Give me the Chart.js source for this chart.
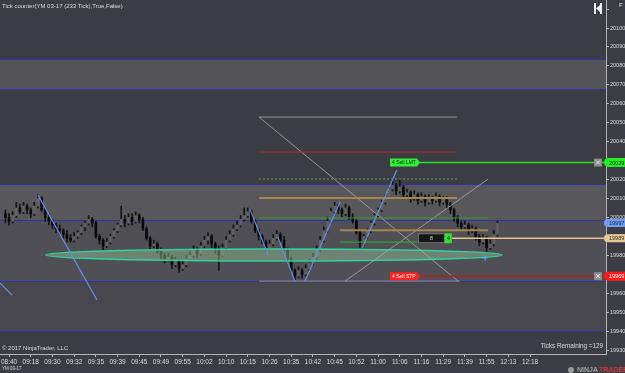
<!DOCTYPE html>
<html><head><meta charset="utf-8">
<script src="https://cdn.jsdelivr.net/npm/chart.js@4"></script>
<style>html,body{margin:0;padding:0;background:#3c3c44;overflow:hidden}canvas{display:block}</style>
</head><body>
<canvas id="c" width="625" height="373"></canvas>
<script>
// ---------- DATA (bar index / price units) ----------
const opens = [20002,20000,19998,20001,20005,20003,20006,20004,20002,20006,
 20010,20004,20000,19998,19996,19994,19993,19991,19989,19988,
 19990,19992,19995,19997,19999,19997,19990,19988,19985,19987,
 19990,19993,19996,19999,19997,20000,19998,20001,19999,19994,
 19989,19985,19986,19982,19980,19978,19979,19975,19977,19973,
 19975,19978,19980,19983,19981,19985,19988,19990,19986,19983,
 19980,19984,19988,19991,19994,19996,19999,20001,20003,19998,
 19993,19990,19987,19984,19986,19989,19991,19988,19983,19978,
 19972,19969,19972,19970,19973,19976,19979,19983,19988,19993,
 19998,20003,20006,20004,20002,20005,20000,19998,19992,19986,
 19990,19993,19997,20001,20004,20008,20011,20015,20017,20014,
 20016,20012,20013,20010,20012,20009,20011,20008,20010,20009,
 20011,20008,20010,20007,20004,20000,19997,19995,19996,19993,
 19994,19990,19987,19989,19984,19986,19991];
const highs = [20004,20002,20003,20008,20007,20008,20007,20005,20008,20012,
 20011,20005,20002,19999,19997,19996,19994,19993,19991,19992,
 19993,19996,19998,20001,20000,19998,19991,19989,19989,19991,
 19994,19997,20006,20001,20002,20002,20003,20002,20000,19995,
 19990,19988,19987,19984,19981,19981,19980,19979,19978,19977,
 19980,19982,19985,19984,19987,19990,19992,19991,19987,19985,
 19986,19990,19993,19996,19998,20001,20005,20005,20004,19999,
 19994,19991,19988,19988,19991,19993,19992,19990,19984,19979,
 19973,19974,19973,19975,19978,19981,19985,19990,19995,20000,
 20005,20008,20007,20005,20007,20006,20002,19999,19993,19991,
 19994,19998,20002,20005,20009,20012,20016,20020,20018,20020,
 20017,20015,20014,20014,20013,20013,20012,20012,20011,20013,
 20012,20011,20011,20008,20005,20001,19998,19998,19997,19996,
 19995,19991,19991,19990,19988,19993,19998];
const lows = [19997,19996,19997,20000,20002,20002,20002,20000,20001,20005,
 20003,19998,19996,19994,19992,19991,19989,19987,19987,19987,
 19989,19991,19993,19996,19995,19989,19986,19983,19984,19986,
 19989,19992,19995,19995,19996,19996,19997,19997,19993,19988,
 19983,19984,19981,19978,19976,19977,19973,19974,19971,19972,
 19974,19977,19979,19979,19980,19984,19986,19984,19981,19972,
 19979,19983,19987,19990,19993,19995,19998,20000,19997,19992,
 19988,19986,19982,19983,19985,19988,19987,19982,19977,19971,
 19967,19968,19968,19969,19972,19975,19978,19982,19987,19992,
 19997,20002,20002,20000,20001,19999,19997,19991,19984,19985,
 19989,19992,19996,20000,20003,20007,20010,20014,20012,20013,
 20011,20011,20008,20009,20007,20008,20006,20007,20007,20008,
 20006,20007,20005,20002,19998,19995,19993,19994,19991,19992,
 19988,19985,19986,19982,19983,19985,19990];
const closes = [20000,19998,20001,20005,20003,20006,20004,20002,20006,20010,
 20004,20000,19998,19996,19994,19993,19991,19989,19988,19990,
 19992,19995,19997,19999,19997,19990,19988,19985,19987,19990,
 19993,19996,19999,19997,20000,19998,20001,19999,19994,19989,
 19985,19986,19982,19980,19978,19979,19975,19977,19973,19975,
 19978,19980,19983,19981,19985,19988,19990,19986,19983,19980,
 19984,19988,19991,19994,19996,19999,20001,20003,19998,19993,
 19990,19987,19984,19986,19989,19991,19988,19983,19978,19972,
 19969,19972,19970,19973,19976,19979,19983,19988,19993,19998,
 20003,20006,20004,20002,20005,20000,19998,19992,19986,19990,
 19993,19997,20001,20004,20008,20011,20015,20017,20014,20016,
 20012,20013,20010,20012,20009,20011,20008,20010,20009,20011,
 20008,20010,20007,20004,20000,19997,19995,19996,19993,19994,
 19990,19987,19989,19984,19986,19991,19997];

const timeLabels = ['08:40','09:18','09:30','09:32','09:35','09:39','09:45','09:49','09:55','10:02',
 '10:10','10:15','10:26','10:35','10:42','10:45','10:52','11:00','11:06','11:16',
 '11:29','11:39','11:55','12:13','12:18'];
const timeTickIdx = [1,7,13,19,25,31,37,43,49,55,61,67,73,79,85,91,97,103,109,115,121,127,133,139,145];
const priceTicks = [19930,19940,19950,19960,19970,19980,19990,20000,20010,20020,20030,20040,20050,20060,20070,20080,20090,20100,20110];
const hiddenPriceTicks = [20110,20030];

// session level lines and shaded zones (price)
const levelLines = [20083.6, 20067.7, 20017.6, 19998.6, 19966.4, 19940.0];
const zoneTop    = [20083.6, 20017.6, 19998.6, 19966.4];
const zoneBottom = [20067.7, 19998.6, 19966.4, 19940.0];

// blue trend lines [idx1, price1, idx2, price2]
const trendLines = [
  [-1.5,19965.4, 1.8,19959.0],
  [9.0,20011.8, 25.3,19956.4],
  [67.6,20004.4, 72.6,19980.1],
  [75.3,19989.6, 80.0,19966.4],
  [82.8,19966.4, 92.5,20008.1],
  [98.6,19983.8, 108.2,20025.0]
];
// gray drawing-tool lines [idx1, price1, idx2, price2]
const grayLines = [
  [70.1,20053.0, 124.8,20053.0],
  [70.1,19966.4, 125.6,19966.4],
  [70.1,20053.0, 125.1,19966.4],
  [93.9,19966.4, 133.4,20020.3]
];
// horizontal study levels [price, idxStart, idxEnd]
const redLevels   = [[20034.5, 70.1, 124.8]];
const tanLevels   = [[20010.2, 70.1, 124.8], [19993.3, 92.5, 133.4]];
const greenLevels = [[19999.7, 70.1, 133.4], [19987.0, 92.5, 114.0]];
const dottedLevels = [[20020.3, 70.1, 124.8]];
// ellipse bounds [idxLeft, priceTop, idxRight, priceBottom]
const ellipseBox = [11.2, 19983.3, 137.25, 19977.0];

// orders / position
const limitPrice = 20029, stopPrice = 19969, avgPrice = 19989, lastPrice = 19997;
const orderQty = 4, positionText = '8';
const orderLabelIdx = 106.3, positionBoxIdx = [114.0, 123.4];
const crossMark = [132.6, 19978.6];
const ticksRemaining = 129;

// ---------- STYLE ----------
const BG = '#3c3c44';
const zoneColors = ['#545458', '#58585c', '#4f4f55', '#47474d'];
const FONT = '"Liberation Sans", Arial, sans-serif';

const wickData = closes.map((c, i) => ({x: i, y: [lows[i], highs[i]]}));
const bodyData = closes.map((c, i) => ({x: i, y: [opens[i], closes[i]]}));

function tag(ctx, x, yc, w, h, fill, text, tcol) {
  ctx.beginPath();
  ctx.moveTo(x + h/2, yc - h/2);
  ctx.lineTo(x + w, yc - h/2);
  ctx.lineTo(x + w, yc + h/2);
  ctx.lineTo(x + h/2, yc + h/2);
  ctx.arc(x + h/2, yc, h/2, Math.PI/2, Math.PI*1.5);
  ctx.closePath();
  ctx.fillStyle = fill; ctx.fill();
  ctx.fillStyle = tcol; ctx.font = '5.5px ' + FONT; ctx.textAlign = 'left'; ctx.textBaseline = 'middle';
  ctx.fillText(text, x + 5, yc + 0.5);
}
function closeBtn(ctx, x, yc) {
  ctx.fillStyle = '#8c8c8c'; ctx.fillRect(x, yc - 4, 8, 8);
  ctx.strokeStyle = '#e8e8e8'; ctx.lineWidth = 1;
  ctx.beginPath(); ctx.moveTo(x + 2, yc - 2); ctx.lineTo(x + 6, yc + 2); ctx.moveTo(x + 6, yc - 2); ctx.lineTo(x + 2, yc + 2); ctx.stroke();
}

const overlay = {
  id: 'overlay',
  beforeDraw(chart) {
    const {ctx, chartArea: a, scales: {x, y}} = chart;
    ctx.save();
    ctx.fillStyle = BG; ctx.fillRect(0, 0, chart.width, chart.height);
    zoneTop.forEach((t, k) => {
      const y1 = y.getPixelForValue(t), y2 = y.getPixelForValue(zoneBottom[k]);
      ctx.fillStyle = zoneColors[k]; ctx.fillRect(a.left, y1, a.right - a.left, y2 - y1);
    });
    ctx.strokeStyle = '#3333a8'; ctx.lineWidth = 1;
    levelLines.forEach(v => {
      const py = Math.round(y.getPixelForValue(v)) + 0.5;
      ctx.beginPath(); ctx.moveTo(a.left, py); ctx.lineTo(a.right, py); ctx.stroke();
    });
    ctx.restore();
  },
  afterDatasetsDraw(chart) {
    const {ctx, chartArea: a, scales: {x, y}} = chart;
    const X = v => x.getPixelForValue(v), Y = v => y.getPixelForValue(v);
    ctx.save();
    ctx.beginPath(); ctx.rect(a.left, a.top, a.right - a.left, a.bottom - a.top); ctx.clip();
    // ellipse
    const ex1 = X(ellipseBox[0]), ex2 = X(ellipseBox[2]), ey1 = Y(ellipseBox[1]), ey2 = Y(ellipseBox[3]);
    ctx.beginPath();
    ctx.ellipse((ex1 + ex2)/2, (ey1 + ey2)/2, (ex2 - ex1)/2, (ey2 - ey1)/2, 0, 0, Math.PI*2);
    ctx.fillStyle = 'rgba(150,195,150,0.45)'; ctx.fill();
    ctx.strokeStyle = '#2fd49c'; ctx.lineWidth = 1.5; ctx.stroke();
    // gray drawing lines
    ctx.strokeStyle = '#a8a8a8'; ctx.lineWidth = 0.8;
    grayLines.forEach(l => { ctx.beginPath(); ctx.moveTo(X(l[0]), Y(l[1])); ctx.lineTo(X(l[2]), Y(l[3])); ctx.stroke(); });
    const hl = (arr, col, w, dash) => {
      ctx.strokeStyle = col; ctx.lineWidth = w; ctx.setLineDash(dash || []);
      arr.forEach(l => { const py = Y(l[0]); ctx.beginPath(); ctx.moveTo(X(l[1]), py); ctx.lineTo(X(l[2]), py); ctx.stroke(); });
      ctx.setLineDash([]);
    };
    hl(redLevels, '#b42a2a', 1);
    hl(tanLevels, '#a8844e', 2);
    hl(greenLevels, '#2fa02f', 1.2);
    hl(dottedLevels, '#6a9a6a', 1, [2, 2]);
    // blue trend lines
    ctx.strokeStyle = '#5f93ea'; ctx.lineWidth = 1.2;
    trendLines.forEach(l => { ctx.beginPath(); ctx.moveTo(X(l[0]), Y(l[1])); ctx.lineTo(X(l[2]), Y(l[3])); ctx.stroke(); });
    // position line + box
    const pbx1 = X(positionBoxIdx[0]), pbx2 = X(positionBoxIdx[1]), py = Y(avgPrice);
    ctx.strokeStyle = '#e6c08e'; ctx.lineWidth = 1.5;
    ctx.beginPath(); ctx.moveTo(pbx2, py); ctx.lineTo(a.right, py); ctx.stroke();
    ctx.fillStyle = '#161616'; ctx.fillRect(pbx1, py - 5, pbx2 - pbx1 - 7, 10);
    ctx.strokeStyle = '#808080'; ctx.lineWidth = 1; ctx.strokeRect(pbx1 + 0.5, py - 4.5, pbx2 - pbx1 - 8, 9);
    ctx.fillStyle = '#33dd33'; ctx.fillRect(pbx2 - 7, py - 5, 7, 10);
    ctx.font = '6px ' + FONT; ctx.textBaseline = 'middle'; ctx.textAlign = 'center';
    ctx.fillStyle = '#d0d0d0'; ctx.fillText(positionText, (pbx1 + pbx2 - 7)/2, py + 0.5);
    ctx.fillStyle = '#0a300a'; ctx.fillText(String(orderQty), pbx2 - 3.5, py + 0.5);
    // order lines
    const ox = X(orderLabelIdx);
    [[limitPrice, '#22e022', '#0a2a0a', 'Sell LMT', '#33ee33'], [stopPrice, '#b22222', '#ffffff', 'Sell STP', '#ff2020']].forEach(o => {
      const oy = Y(o[0]);
      ctx.strokeStyle = o[1]; ctx.lineWidth = 1.5;
      ctx.beginPath(); ctx.moveTo(ox + 28, oy); ctx.lineTo(a.right, oy); ctx.stroke();
      ctx.fillStyle = o[4];
      ctx.beginPath(); ctx.moveTo(ox, oy - 4); ctx.lineTo(ox + 27, oy - 4); ctx.lineTo(ox + 30, oy); ctx.lineTo(ox + 27, oy + 4); ctx.lineTo(ox, oy + 4); ctx.closePath(); ctx.fill();
      ctx.fillStyle = o[2]; ctx.font = '5px ' + FONT; ctx.textAlign = 'left';
      ctx.fillText(orderQty + ' ' + o[3], ox + 2, oy + 0.5);
      closeBtn(ctx, a.right - 12, oy);
    });
    // fill marker
    ctx.strokeStyle = '#5fa8ff'; ctx.lineWidth = 1;
    const cx = X(crossMark[0]), cy = Y(crossMark[1]);
    ctx.beginPath(); ctx.moveTo(cx - 2.5, cy); ctx.lineTo(cx + 2.5, cy); ctx.moveTo(cx, cy - 2.5); ctx.lineTo(cx, cy + 3); ctx.stroke();
    ctx.restore();
  },
  afterDraw(chart) {
    const {ctx, chartArea: a, scales: {y}} = chart;
    ctx.save();
    // axis tags
    tag(ctx, a.right - 2, y.getPixelForValue(limitPrice), 21, 9, '#22ee22', String(limitPrice), '#0a2a0a');
    tag(ctx, a.right - 2, y.getPixelForValue(lastPrice), 21, 8, '#6e9ef0', String(lastPrice), '#10204a');
    tag(ctx, a.right - 2, y.getPixelForValue(avgPrice), 21, 8, '#e8c898', String(avgPrice), '#3a2a10');
    tag(ctx, a.right - 2, y.getPixelForValue(stopPrice), 21, 9, '#ff1a1a', String(stopPrice), '#ffffff');
    // texts
    ctx.fillStyle = '#dcdcdc'; ctx.textBaseline = 'middle'; ctx.textAlign = 'left';
    ctx.font = '6px ' + FONT;
    ctx.fillText('Tick counter(YM 03-17 (233 Tick),True,False)', 2, 6);
    ctx.fillText('\u00A9 2017 NinjaTrader, LLC', 2, 348);
    ctx.font = '4.5px ' + FONT; ctx.fillText('YM 03-17', 2, 369);
    ctx.font = '6.3px ' + FONT; ctx.textAlign = 'right';
    ctx.fillText('Ticks Remaining =' + ticksRemaining, a.right - 3, 346);
    // top-right icon
    ctx.fillStyle = '#f0f0f0';
    ctx.fillRect(594, 3, 2, 11); ctx.fillRect(600, 3, 2, 11);
    ctx.beginPath(); ctx.moveTo(596, 8.5); ctx.lineTo(600, 5); ctx.lineTo(600, 12); ctx.closePath(); ctx.fill();
    ctx.fillStyle = '#bbbbbb'; ctx.font = 'bold 6px ' + FONT; ctx.textAlign = 'left';
    ctx.fillText('F', 619, 5);
    // logo
    ctx.font = 'bold 7px ' + FONT;
    ctx.beginPath(); ctx.arc(571, 370, 3, 0, Math.PI*2); ctx.fillStyle = '#9a9a9a'; ctx.fill();
    ctx.fillStyle = '#a0a0a0'; ctx.fillText('NINJA', 577, 370);
    ctx.fillStyle = '#d03838'; ctx.fillText('TRADER', 599, 370);
    ctx.restore();
  }
};

new Chart(document.getElementById('c'), {
  type: 'bar',
  data: {
    datasets: [
      {data: wickData, backgroundColor: '#141414', barThickness: 1, grouped: false, borderWidth: 0, order: 2},
      {data: bodyData, backgroundColor: ctx => (closes[ctx.dataIndex] >= opens[ctx.dataIndex] ? '#626262' : '#0a0a0a'),
       borderWidth: 0, barThickness: 2, grouped: false, order: 1}
    ]
  },
  options: {
    responsive: false, animation: false, devicePixelRatio: 1,
    layout: {padding: 0},
    plugins: {legend: {display: false}, tooltip: {enabled: false}, title: {display: false}},
    scales: {
      x: {
        type: 'linear', min: -1.5, max: 166, offset: false,
        afterFit(s) { s.height = 19; s.paddingLeft = 0; s.paddingRight = 0; },
        afterBuildTicks(s) { s.ticks = timeTickIdx.map(v => ({value: v})); },
        ticks: {autoSkip: false, maxRotation: 0, padding: 1, color: '#dcdcdc', font: {family: FONT, size: 6.5},
          callback: v => timeLabels[timeTickIdx.indexOf(v)]},
        grid: {display: true, drawOnChartArea: false, drawTicks: true, tickLength: 3, color: '#b4b4b4', offset: false},
        border: {display: true, color: '#b4b4b4'}
      },
      y: {
        type: 'linear', position: 'right', min: 19927.9, max: 20114.8,
        afterFit(s) { s.width = 19; s.paddingTop = 0; s.paddingBottom = 0; },
        afterBuildTicks(s) { s.ticks = priceTicks.map(v => ({value: v})); },
        ticks: {padding: 1, color: '#dcdcdc', font: {family: FONT, size: 5.5},
          callback: v => hiddenPriceTicks.includes(v) ? '' : String(v)},
        grid: {display: true, drawOnChartArea: false, drawTicks: true, tickLength: 3, color: '#b4b4b4'},
        border: {display: true, color: '#b4b4b4'}
      }
    }
  },
  plugins: [overlay]
});
</script>
</body></html>
